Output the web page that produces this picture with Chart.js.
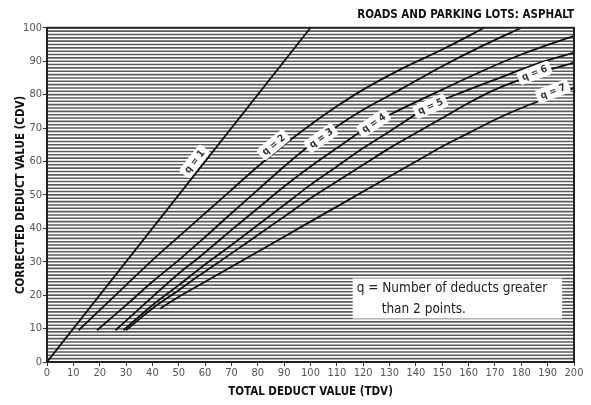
<!DOCTYPE html>
<html>
<head>
<meta charset="utf-8">
<script src="https://cdn.jsdelivr.net/npm/chart.js@4.4.1/dist/chart.umd.min.js"></script>
<style>
  html, body { margin: 0; padding: 0; background: #fff; }
  #wrap { width: 591px; height: 405px; }
</style>
</head>
<body>
<div id="wrap"><canvas id="canvas" width="591" height="405"></canvas></div>
<script>
// CDV curves, asphalt roads & parking lots
const tdvQ1 = [0, 100];
const cdvQ1 = [0, 100];
const tdvQ2 = [12, 20, 30, 40, 50, 60, 70, 80, 90, 100, 110, 120, 134, 150, 166];
const cdvQ2 = [9.5, 15.5, 23, 30.5, 37.5, 44.5, 51.5, 58.5, 65, 71, 76.5, 81.5, 87.5, 93.5, 100];
const tdvQ3 = [19, 30, 40, 50, 58, 70, 80, 90, 100, 110, 120, 134, 150, 165, 180];
const cdvQ3 = [9.5, 17, 24, 30.5, 36, 44.5, 51.5, 58.5, 65, 70.5, 75.5, 81.5, 88.5, 94.5, 100];
const tdvQ4 = [26, 40, 50, 58, 70, 80, 90, 100, 110, 124, 134, 150, 165, 180, 200];
const cdvQ4 = [9.5, 19.5, 26.5, 31.5, 39.5, 46, 52.5, 58.5, 64, 71.5, 75.5, 81.5, 87, 92, 97.6];
const tdvQ5 = [29, 40, 50, 58, 70, 80, 90, 100, 110, 120, 130, 145, 160, 175, 185, 200];
const cdvQ5 = [9.5, 17, 23, 28, 35, 41, 47, 53, 58.5, 64, 69, 76.5, 81.5, 86, 89, 92.6];
const tdvQ6 = [30, 40, 50, 58, 70, 80, 90, 100, 110, 120, 130, 140, 150, 160, 170, 185, 200];
const cdvQ6 = [9.5, 16, 21.5, 26, 32.5, 38, 43.5, 49, 54, 59, 64, 68.5, 73, 77.5, 81.5, 86, 89.6];
const tdvQ7 = [43, 50, 60, 70, 80, 90, 100, 110, 120, 130, 140, 150, 160, 170, 180, 190, 200];
const cdvQ7 = [16, 19.5, 24, 28.5, 33, 37.5, 42, 46.5, 51, 55.5, 60, 64.5, 68.5, 72.5, 76, 79, 82];

const xTicks = [0, 200, 10];   // min, max, step
const yTicks = [0, 100, 10];
const qNames = ["q = 1", "q = 2", "q = 3", "q = 4", "q = 5", "q = 6", "q = 7"];
const noteLines = ["q = Number of deducts greater", "than 2 points."];

const curves = [
  [tdvQ1, cdvQ1], [tdvQ2, cdvQ2], [tdvQ3, cdvQ3], [tdvQ4, cdvQ4],
  [tdvQ5, cdvQ5], [tdvQ6, cdvQ6], [tdvQ7, cdvQ7]
];

// where the "q = n" tags sit, in data units
const tagSpots = [[56, 60], [86, 65], [104, 67], [124, 71.5], [145.5, 76.5], [185, 86.5], [192, 81]];
const noteBox = { x0: 116, x1: 195.5, y0: 25, y1: 13 };

const FONT = "'DejaVu Sans Condensed', 'DejaVu Sans', sans-serif";

const stripes = {
  id: "stripes",
  beforeDatasetsDraw(chart) {
    const { ctx, chartArea: a, scales: { x, y } } = chart;
    ctx.save();
    ctx.strokeStyle = "#5c5c5c";
    ctx.lineWidth = 1.6;
    for (let v = yTicks[0] + 1; v < yTicks[1]; v++) {
      const py = y.getPixelForValue(v);
      ctx.beginPath();
      ctx.moveTo(a.left, py);
      ctx.lineTo(a.right, py);
      ctx.stroke();
    }
    // note box
    const bx = x.getPixelForValue(noteBox.x0), bx2 = x.getPixelForValue(noteBox.x1);
    const by = y.getPixelForValue(noteBox.y0), by2 = y.getPixelForValue(noteBox.y1);
    ctx.fillStyle = "#fff";
    ctx.fillRect(bx, by, bx2 - bx, by2 - by);
    ctx.fillStyle = "#222";
    ctx.font = "13.5px " + FONT;
    ctx.textBaseline = "middle";
    ctx.fillText(noteLines[0], bx + 4, by + 10);
    ctx.fillText(noteLines[1], bx + 29, by + 31);
    ctx.restore();
  },
  afterDatasetsDraw(chart) {
    const { ctx, chartArea: a, scales: { x, y } } = chart;
    ctx.save();
    ctx.font = "bold 10px " + FONT;
    ctx.textAlign = "center";
    ctx.textBaseline = "middle";
    tagSpots.forEach((s, i) => {
      const [tx, ty] = curves[i];
      // slope of curve near the tag, in pixels
      let k = 0;
      while (k < tx.length - 2 && tx[k + 1] < s[0]) k++;
      const ang = Math.atan2(
        y.getPixelForValue(ty[k + 1]) - y.getPixelForValue(ty[k]),
        x.getPixelForValue(tx[k + 1]) - x.getPixelForValue(tx[k])
      );
      ctx.save();
      ctx.translate(x.getPixelForValue(s[0]), y.getPixelForValue(s[1]));
      ctx.rotate(ang);
      const w = ctx.measureText(qNames[i]).width + 8;
      ctx.fillStyle = "#fff";
      ctx.beginPath();
      ctx.roundRect(-w / 2, -7, w, 14, 3);
      ctx.fill();
      ctx.fillStyle = "#333";
      ctx.fillText(qNames[i], 0, 0.5);
      ctx.restore();
    });
    ctx.strokeStyle = "#222";
    ctx.lineWidth = 2;
    ctx.strokeRect(a.left, a.top, a.right - a.left, a.bottom - a.top);
    ctx.restore();
  }
};

new Chart(document.getElementById("canvas"), {
  type: "line",
  data: {
    datasets: curves.map((c, i) => ({
      label: qNames[i],
      data: c[0].map((v, j) => ({ x: v, y: c[1][j] })),
      borderColor: "#111",
      borderWidth: 1.8,
      pointRadius: 0,
      fill: false,
      cubicInterpolationMode: "monotone"
    }))
  },
  options: {
    responsive: false,
    animation: false,
    layout: { padding: { left: 0, right: 17, top: 0, bottom: 0 } },
    plugins: {
      legend: { display: false },
      tooltip: { enabled: false },
      title: {
        display: true,
        text: "ROADS AND PARKING LOTS: ASPHALT",
        align: "end",
        color: "#111",
        font: { family: FONT, size: 11.5, weight: "bold" },
        padding: { top: 8, bottom: 6 }
      }
    },
    scales: {
      x: {
        type: "linear",
        min: xTicks[0], max: xTicks[1],
        ticks: { stepSize: xTicks[2], color: "#555", padding: 1, maxRotation: 0,
                 font: { family: FONT, size: 11 } },
        grid: { display: true, drawOnChartArea: false, drawTicks: true, tickLength: 4, color: "#333" },
        border: { display: true, color: "#222", width: 2 },
        title: { display: true, text: "TOTAL DEDUCT VALUE (TDV)", color: "#111",
                 font: { family: FONT, size: 11.5, weight: "bold" }, padding: { top: 0, bottom: 6 } },
        afterFit(s) { s.height = 43; }
      },
      y: {
        min: yTicks[0], max: yTicks[1],
        ticks: { stepSize: yTicks[2], color: "#555", padding: 1,
                 font: { family: FONT, size: 11 } },
        grid: { display: true, drawOnChartArea: false, drawTicks: true, tickLength: 4, color: "#333" },
        border: { display: true, color: "#222", width: 2 },
        title: { display: true, text: "CORRECTED DEDUCT VALUE (CDV)", color: "#111",
                 font: { family: FONT, size: 11.5, weight: "bold" }, padding: { top: 14, bottom: 0 } },
        afterFit(s) { s.width = 47; }
      }
    }
  },
  plugins: [stripes]
});
</script>
</body>
</html>
